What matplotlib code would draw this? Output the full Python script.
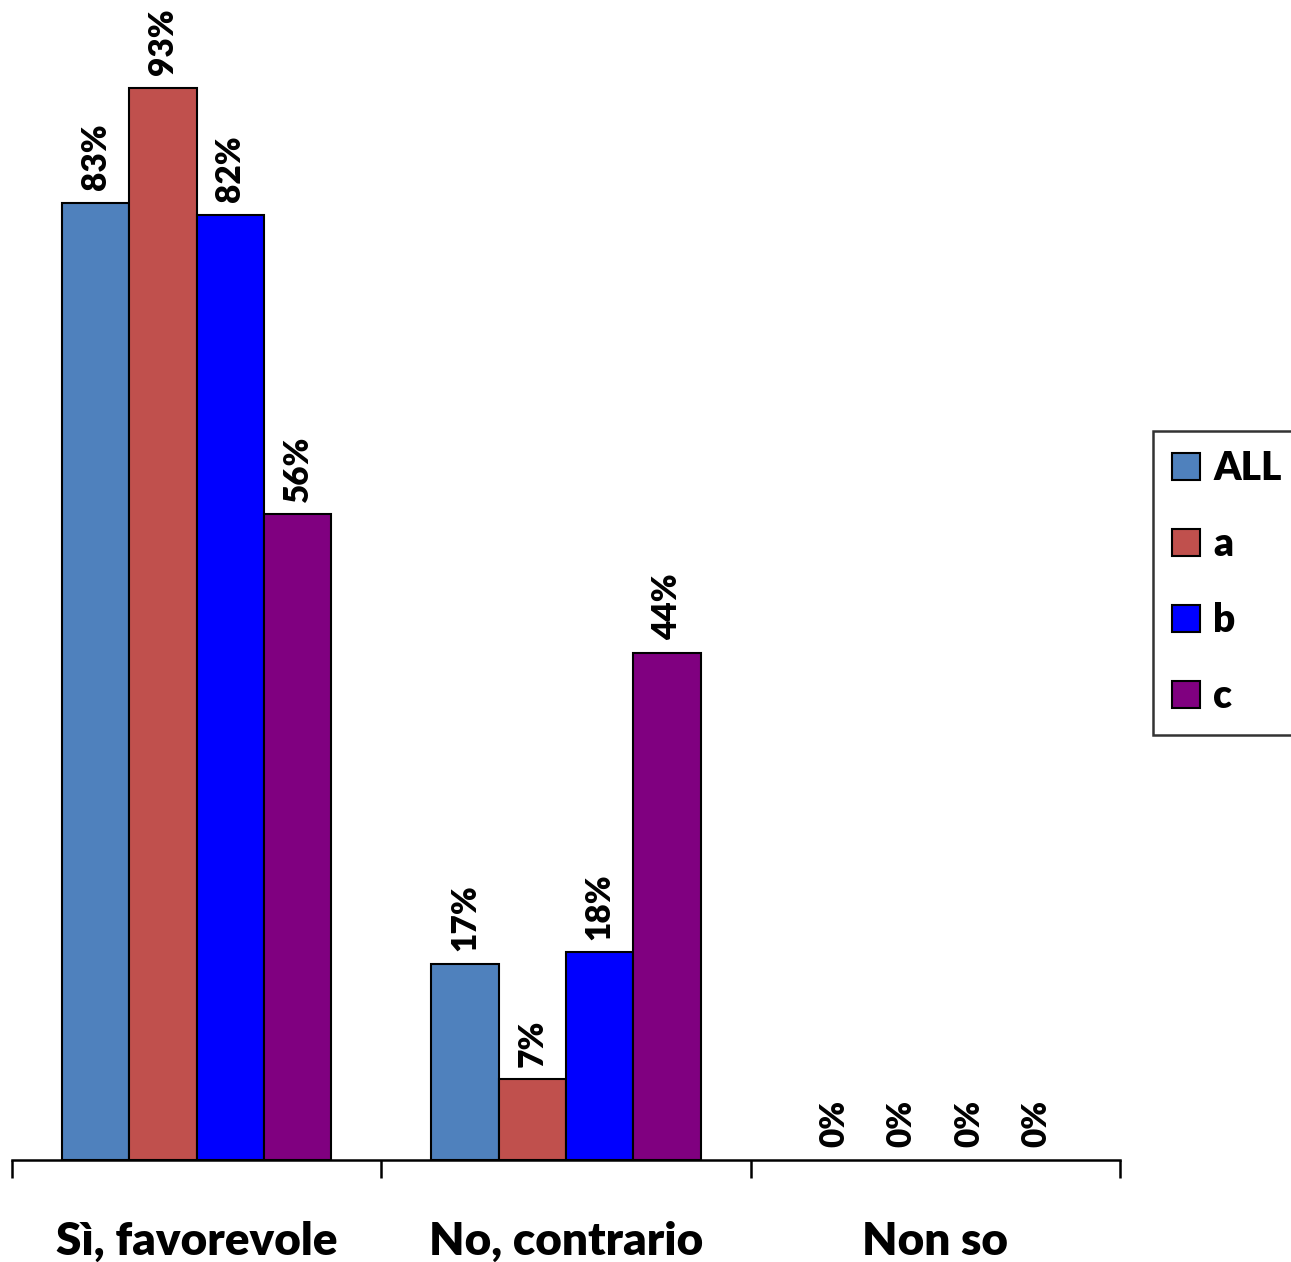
import numpy as np
import matplotlib.pyplot as plt

# dati del grafico
categorie = ['Sì, favorevole', 'No, contrario', 'Non so']
serie = ['ALL', 'a', 'b', 'c']
valori_all = [83, 17, 0]
valori_a = [93, 7, 0]
valori_b = [82, 18, 0]
valori_c = [56, 44, 0]
colori = ['#4F81BD', '#C0504D', '#0000FF', '#800080']

plt.rcParams['font.family'] = ['Lato', 'DejaVu Sans']
plt.rcParams['font.weight'] = 'heavy'

W, H = 1291, 1262
fig = plt.figure(figsize=(W / 100, H / 100), dpi=100)
ax = fig.add_axes([12 / W, 102 / H, 1108 / W, 1158 / H])

x = np.arange(len(categorie))
larghezza = 0.1824
dati = [valori_all, valori_a, valori_b, valori_c]
for i, (nome, vals, col) in enumerate(zip(serie, dati, colori)):
    pos = x + (i - 1.5) * larghezza
    lw = [1.5 if v > 0 else 0 for v in vals]
    ax.bar(pos, vals, larghezza, color=col, edgecolor='black', linewidth=lw, label=nome)
    for px, v in zip(pos, vals):
        ax.text(px, v + 1.1, f'{v}%', rotation=90, ha='center', va='bottom',
                fontsize=24, fontweight='heavy', clip_on=False)

ax.set_xlim(-0.5, 2.5)
ax.set_ylim(0, 1158 / 11.53)
ax.set_yticks([])
for s in ['top', 'right', 'left']:
    ax.spines[s].set_visible(False)
ax.spines['bottom'].set_linewidth(1.8)

ax.set_xticks(x)
ax.set_xticklabels(categorie, fontsize=33, fontweight='heavy')
ax.tick_params(axis='x', which='major', length=0, pad=44)
ax.set_xticks([-0.5, 0.5, 1.5, 2.5], minor=True)
ax.tick_params(axis='x', which='minor', length=13, width=1.8, direction='out')

leg = fig.legend(loc='upper left', bbox_to_anchor=(1153 / W, 1 - 431 / H),
                 frameon=True, fancybox=False, fontsize=28, handlelength=0.7,
                 handleheight=0.7, handletextpad=0.35, labelspacing=1.0,
                 borderpad=0.5, borderaxespad=0)
leg.get_frame().set_edgecolor('black')
leg.get_frame().set_linewidth(1.8)

fig.savefig('out.png', dpi=100)
